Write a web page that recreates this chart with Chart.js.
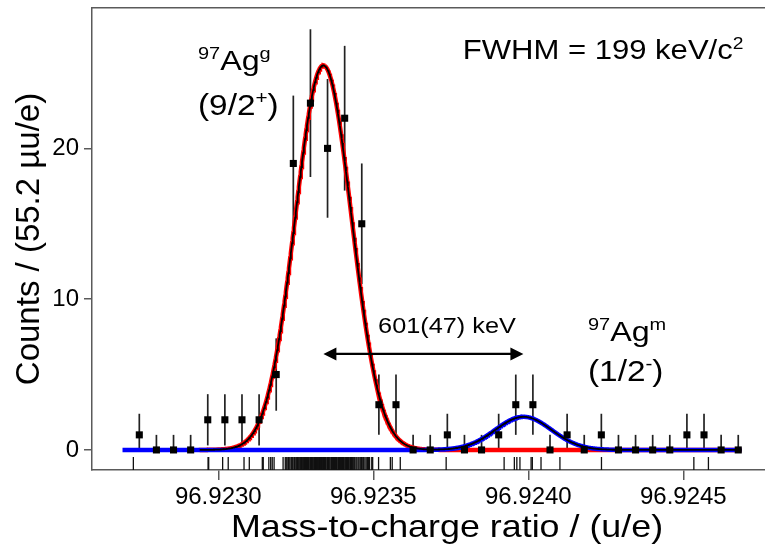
<!DOCTYPE html>
<html>
<head>
<meta charset="utf-8">
<title>97Ag mass spectrum</title>
<script src="https://cdn.jsdelivr.net/npm/chart.js@4.4.1/dist/chart.umd.min.js"></script>
<style>
  html, body { margin: 0; padding: 0; background: #fff; overflow: hidden; }
  #wrap { width: 765px; height: 549px; }
</style>
</head>
<body>
<div id="wrap"><canvas id="tofChart"></canvas></div>
<script>
// Histogram of the mass-to-charge ratio, 55.2 µu/e per bin
const binWidth = 0.0000552;
const firstBin = 96.9227452;
const counts = [1, 0, 0, 0, 2, 2, 2, 2, 5, 19, 23, 20, 22, 15, 3, 3, 0, 0,
                1, 0, 0, 1, 3, 3, 0, 1, 0, 1, 0, 0, 0, 0, 1, 1, 0, 0];
const countErrors = [1.4, 1.0, 1.0, 1.0, 1.7, 1.7, 1.7, 1.7, 2.4, 4.5, 4.9, 4.6, 4.8, 4.0, 2.0, 2.0, 1.0, 1.0,
                     1.4, 1.0, 1.0, 1.4, 2.0, 2.0, 1.0, 1.4, 1.0, 1.4, 1.0, 1.0, 1.0, 1.0, 1.4, 1.4, 1.0, 1.0];

// single events, in µu above 96.922 u/e (rug under the histogram)
const eventsMicroU = [
  726, 967, 969, 1014, 1032, 1083, 1100, 1142, 1145,
  1163, 1169, 1174, 1180, 1209,
  1216, 1219, 1222, 1226, 1228, 1231, 1235, 1237, 1240, 1244, 1246, 1250, 1253, 1255, 1258, 1261, 1264, 1266, 1268,
  1271, 1274, 1276, 1278, 1281, 1284, 1286, 1288, 1291, 1293, 1296, 1298, 1301, 1303, 1305, 1308, 1310, 1313, 1315, 1317, 1320, 1322, 1324,
  1326, 1328, 1330, 1333, 1335, 1337, 1339, 1341, 1343, 1346, 1348, 1352, 1355, 1358, 1361, 1365, 1368, 1372, 1375, 1378,
  1381, 1383, 1386, 1388, 1391, 1394, 1396, 1398, 1401, 1404, 1406, 1409, 1411, 1414, 1417, 1420, 1422, 1425, 1427, 1430, 1432, 1434,
  1437, 1440, 1444, 1447, 1451, 1454, 1458, 1462, 1466, 1469, 1473, 1477, 1481, 1484, 1488,
  1495, 1498, 1517, 1555, 1561, 1587, 1735, 1922, 1955, 1963, 1973, 2009, 2013, 2041,
  2102, 2236, 2534, 2581
];

// two-peak gaussian fit
const groundCentre = 96.923339;
const peakHeights = [25.5, 2.2];       // ground, isomer
const fwhmKeV = 199;
const excitationKeV = 601;
const keVPerU = 931494.1;
const fitRange = [96.92294, 96.9246877];
const isomerRange = [96.922691, 96.9246877];

const xTicks = [96.9230, 96.9235, 96.9240, 96.9245];
const yTicks = [0, 10, 20];

const FONT = "'Liberation Sans', Arial, Helvetica, sans-serif";
const axisColor = '#5a5a5a';

const sigma = fwhmKeV / keVPerU / 2.3548;
const peakCentres = [groundCentre, groundCentre + excitationKeV / keVPerU];

function gauss(x, i) {
  const d = (x - peakCentres[i]) / sigma;
  return peakHeights[i] * Math.exp(-0.5 * d * d);
}

function sample(range, fn) {
  const pts = [];
  const n = Math.round((range[1] - range[0]) / 0.000002);
  for (let k = 0; k <= n; k++) {
    const x = range[0] + (range[1] - range[0]) * k / n;
    pts.push({ x: x, y: fn(x) });
  }
  return pts;
}

const points = counts.map((c, i) => ({ x: firstBin + i * binWidth, y: c }));
const rugPoints = eventsMicroU.map(v => ({ x: 96.922 + v * 1e-6, y: -0.9 }));

// error bars, drawn behind the fit curves
const errorBars = {
  id: 'errorBars',
  beforeDatasetsDraw(chart) {
    const { ctx, scales: { x, y } } = chart;
    ctx.save();
    ctx.strokeStyle = '#222';
    ctx.lineWidth = 1.7;
    points.forEach((p, i) => {
      const px = x.getPixelForValue(p.x);
      ctx.beginPath();
      ctx.moveTo(px, y.getPixelForValue(Math.max(0, p.y - countErrors[i])));
      ctx.lineTo(px, y.getPixelForValue(p.y + countErrors[i]));
      ctx.stroke();
    });
    ctx.restore();
  }
};

// labels with superscripts, placed in data coordinates
const notes = [
  { x: 96.9229345, y: 25.2, size: 28, parts: [['97', 1], ['Ag', 0], ['g', 1]] },
  { x: 96.9229345, y: 22.2, size: 29, parts: [['(9/2', 0], ['+', 1], [')', 0]] },
  { x: 96.9237884, y: 25.9, size: 27, parts: [['FWHM = 199 keV/c', 0], ['2', 1]] },
  { x: 96.9237377, y: 7.75, size: 22, parts: [['601(47) keV', 0]], centre: true },
  { x: 96.9241926, y: 7.2, size: 28, parts: [['97', 1], ['Ag', 0], ['m', 1]] },
  { x: 96.9241926, y: 4.55, size: 29, parts: [['(1/2', 0], ['-', 1], [')', 0]] }
];
const stretchX = 1.15;

function partWidth(ctx, p, size) {
  ctx.font = (p[1] ? size * 0.62 : size) + 'px ' + FONT;
  return ctx.measureText(p[0]).width;
}

const annotations = {
  id: 'annotations',
  afterDraw(chart) {
    const { ctx, scales: { x, y } } = chart;
    ctx.save();
    ctx.fillStyle = '#000';
    ctx.textBaseline = 'alphabetic';
    notes.forEach(n => {
      let total = 0;
      n.parts.forEach(p => { total += partWidth(ctx, p, n.size); });
      ctx.save();
      ctx.translate(x.getPixelForValue(n.x), y.getPixelForValue(n.y));
      ctx.scale(stretchX, 1);
      let cx = n.centre ? -total / 2 : 0;
      n.parts.forEach(p => {
        const w = partWidth(ctx, p, n.size);
        ctx.fillText(p[0], cx, p[1] ? -n.size * 0.4 : 0);
        cx += w;
      });
      ctx.restore();
    });

    // x axis title, a little right of the axis centre
    ctx.save();
    ctx.translate(x.getPixelForValue(96.9237377), chart.height - 12);
    ctx.scale(1.12, 1);
    ctx.font = '32px ' + FONT;
    ctx.textAlign = 'center';
    ctx.fillText('Mass-to-charge ratio / (u/e)', 0, 0);
    ctx.restore();

    // arrow between the two peak centres
    const ay = y.getPixelForValue(6.37);
    const x1 = x.getPixelForValue(peakCentres[0]);
    const x2 = x.getPixelForValue(peakCentres[1]);
    const head = 13;
    ctx.strokeStyle = '#000';
    ctx.lineWidth = 2.4;
    ctx.beginPath();
    ctx.moveTo(x1 + head - 2, ay);
    ctx.lineTo(x2 - head + 2, ay);
    ctx.stroke();
    ctx.beginPath();
    ctx.moveTo(x1, ay);
    ctx.lineTo(x1 + head, ay - 6.5);
    ctx.lineTo(x1 + head, ay + 6.5);
    ctx.closePath();
    ctx.moveTo(x2, ay);
    ctx.lineTo(x2 - head, ay - 6.5);
    ctx.lineTo(x2 - head, ay + 6.5);
    ctx.closePath();
    ctx.fill();
    ctx.restore();
  }
};

document.addEventListener('DOMContentLoaded', function () {
  const canvas = document.getElementById('tofChart');

  new Chart(canvas, {
    type: 'scatter',
    data: {
      datasets: [
        {
          label: 'Counts',
          data: points,
          pointStyle: 'rect',
          pointRadius: 5,
          backgroundColor: '#000',
          borderColor: '#000',
          borderWidth: 0,
          order: 0
        },
        {
          type: 'line',
          label: 'Total fit',
          data: sample(fitRange, v => gauss(v, 0) + gauss(v, 1)),
          borderColor: '#000',
          borderWidth: 1.8,
          pointRadius: 0,
          order: 1
        },
        {
          type: 'line',
          label: '97Ag m',
          data: sample(isomerRange, v => gauss(v, 1)),
          borderColor: '#0000ff',
          borderWidth: 4.5,
          pointRadius: 0,
          order: 2
        },
        {
          type: 'line',
          label: '97Ag g',
          data: sample(fitRange, v => gauss(v, 0)),
          borderColor: '#ff0000',
          borderWidth: 4.5,
          pointRadius: 0,
          order: 3
        },
        {
          label: 'Events',
          data: rugPoints,
          pointStyle: 'line',
          rotation: 90,
          pointRadius: 6.5,
          borderColor: '#111',
          borderWidth: 1.3,
          clip: false,
          order: 4
        }
      ]
    },
    options: {
      responsive: true,
      maintainAspectRatio: false,
      animation: false,
      events: [],
      layout: { padding: 0, autoPadding: false },
      plugins: {
        legend: { display: false },
        tooltip: { enabled: false }
      },
      scales: {
        x: {
          type: 'linear',
          min: 96.9225926,
          max: 96.9247635,
          afterBuildTicks: s => { s.ticks = xTicks.map(v => ({ value: v })); },
          afterFit: s => { s.height = 79; s.paddingLeft = 0; s.paddingRight = 0; },
          grid: { display: true, drawOnChartArea: false, drawTicks: true, tickLength: 10, color: axisColor, lineWidth: 1.5 },
          border: { display: true, color: axisColor, width: 1.5 },
          ticks: {
            callback: v => v.toFixed(4),
            font: { family: FONT, size: 24 },
            color: '#000',
            padding: 3,
            maxRotation: 0,
            autoSkip: false
          }
        },
        xTop: {
          type: 'linear',
          position: 'top',
          min: 96.9225926,
          max: 96.9247635,
          afterFit: s => { s.height = 8; s.paddingLeft = 0; s.paddingRight = 0; },
          grid: { display: false },
          border: { display: true, color: axisColor, width: 1.5 },
          ticks: { display: false }
        },
        y: {
          type: 'linear',
          min: -1.33,
          max: 29.31,
          afterBuildTicks: s => { s.ticks = yTicks.map(v => ({ value: v })); },
          afterFit: s => { s.width = 92; s.paddingTop = 0; s.paddingBottom = 0; },
          grid: { display: true, drawOnChartArea: false, drawTicks: true, tickLength: 8, color: axisColor, lineWidth: 1.5 },
          border: { display: true, color: axisColor, width: 1.5 },
          ticks: {
            font: { family: FONT, size: 24 },
            color: '#000',
            padding: 5
          },
          title: {
            display: true,
            text: 'Counts / (55.2 µu/e)',
            font: { family: FONT, size: 33 },
            color: '#000',
            padding: { top: 10, bottom: 0 }
          }
        }
      }
    },
    plugins: [errorBars, annotations]
  });
});
</script>
</body>
</html>
